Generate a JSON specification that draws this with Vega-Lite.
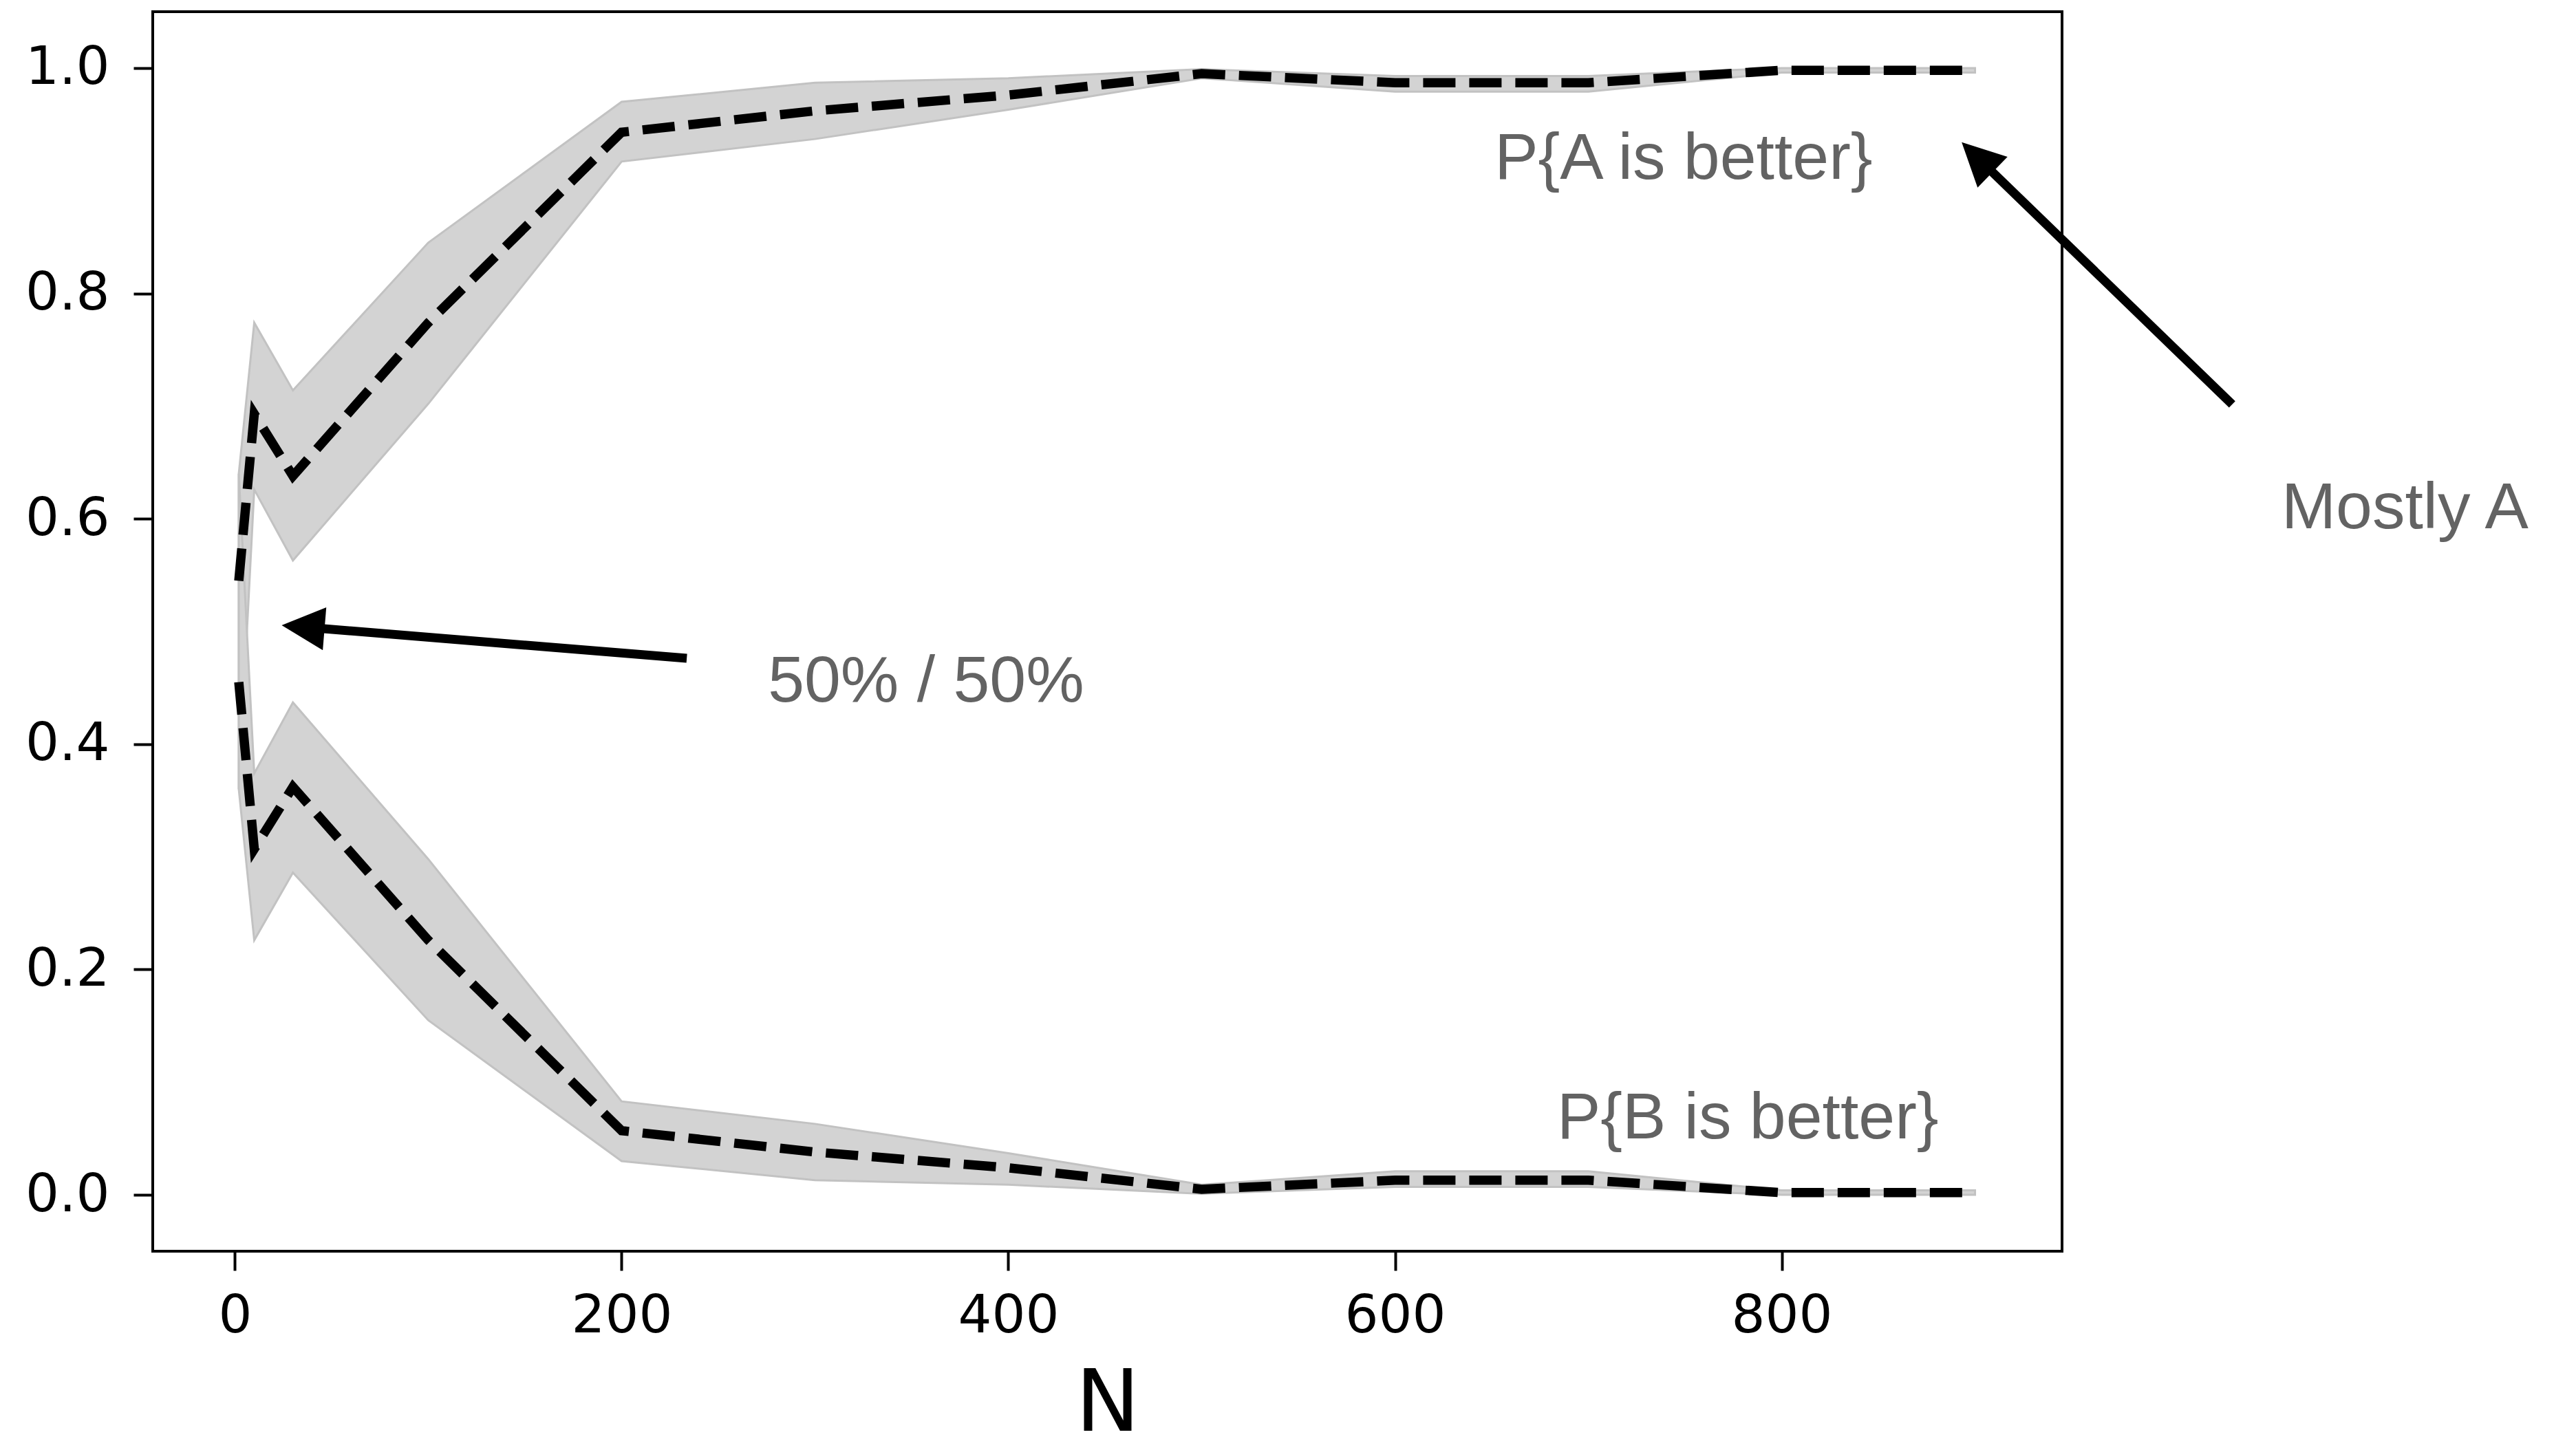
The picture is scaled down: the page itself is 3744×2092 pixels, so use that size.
{
  "$schema": "https://vega.github.io/schema/vega-lite/v6.json",
  "width": 2775,
  "height": 1802,
  "autosize": {"type": "none"},
  "padding": {"left": 222, "top": 17, "right": 747, "bottom": 273},
  "background": "white",
  "datasets": {
    "curves": [
      {"series": "A", "N": 2, "mean": 0.545, "lo": 0.36, "hi": 0.64},
      {"series": "A", "N": 10, "mean": 0.693, "lo": 0.626, "hi": 0.774},
      {"series": "A", "N": 30, "mean": 0.638, "lo": 0.563, "hi": 0.714},
      {"series": "A", "N": 100, "mean": 0.774, "lo": 0.702, "hi": 0.845},
      {"series": "A", "N": 200, "mean": 0.943, "lo": 0.917, "hi": 0.970},
      {"series": "A", "N": 300, "mean": 0.962, "lo": 0.937, "hi": 0.987},
      {"series": "A", "N": 400, "mean": 0.976, "lo": 0.963, "hi": 0.991},
      {"series": "A", "N": 500, "mean": 0.995, "lo": 0.991, "hi": 0.999},
      {"series": "A", "N": 600, "mean": 0.987, "lo": 0.979, "hi": 0.993},
      {"series": "A", "N": 700, "mean": 0.987, "lo": 0.979, "hi": 0.993},
      {"series": "A", "N": 800, "mean": 0.998, "lo": 0.996, "hi": 1.0},
      {"series": "A", "N": 900, "mean": 0.998, "lo": 0.996, "hi": 1.0},
      {"series": "B", "N": 2, "mean": 0.455, "lo": 0.36, "hi": 0.64},
      {"series": "B", "N": 10, "mean": 0.307, "lo": 0.226, "hi": 0.374},
      {"series": "B", "N": 30, "mean": 0.362, "lo": 0.286, "hi": 0.437},
      {"series": "B", "N": 100, "mean": 0.226, "lo": 0.155, "hi": 0.298},
      {"series": "B", "N": 200, "mean": 0.057, "lo": 0.030, "hi": 0.083},
      {"series": "B", "N": 300, "mean": 0.038, "lo": 0.013, "hi": 0.063},
      {"series": "B", "N": 400, "mean": 0.024, "lo": 0.009, "hi": 0.037},
      {"series": "B", "N": 500, "mean": 0.005, "lo": 0.001, "hi": 0.009},
      {"series": "B", "N": 600, "mean": 0.013, "lo": 0.007, "hi": 0.021},
      {"series": "B", "N": 700, "mean": 0.013, "lo": 0.007, "hi": 0.021},
      {"series": "B", "N": 800, "mean": 0.002, "lo": 0.0, "hi": 0.004},
      {"series": "B", "N": 900, "mean": 0.002, "lo": 0.0, "hi": 0.004}
    ],
    "labels": [
      {"label": "P{A is better}", "N": 651.5, "P": 0.9017},
      {"label": "P{B is better}", "N": 683.8, "P": 0.050},
      {"label": "50% / 50%", "N": 275.7, "P": 0.4377},
      {"label": "Mostly A", "N": 1058.5, "P": 0.5916}
    ],
    "shafts": [
      {"arrow": "1", "N": 233.7, "P": 0.4762, "N2": 38.4, "P2": 0.5035},
      {"arrow": "2", "N": 1033.0, "P": 0.7015, "N2": 903.3, "P2": 0.9171}
    ],
    "head1": [{"arrow": "1", "N": 24.2, "P": 0.5055}],
    "head2": [{"arrow": "2", "N": 893.1, "P": 0.9341}]
  },
  "layer": [
    {
      "data": {"name": "curves"},
      "mark": {"type": "area", "fill": "#d3d3d3", "stroke": "#c2c2c2", "strokeWidth": 3, "opacity": 1},
      "encoding": {
        "x": {"field": "N", "type": "quantitative", "scale": {"domain": [-42.5, 945], "nice": false, "zero": false},
              "axis": {"title": "N", "values": [0, 200, 400, 600, 800], "format": "d", "labelPadding": 28, "titlePadding": 29}},
        "y": {"field": "lo", "type": "quantitative", "scale": {"domain": [-0.05, 1.05], "nice": false, "zero": false},
              "axis": {"title": null, "values": [0, 0.2, 0.4, 0.6, 0.8, 1.0], "format": ".1f", "labelPadding": 35}},
        "y2": {"field": "hi"},
        "detail": {"field": "series"}
      }
    },
    {
      "data": {"name": "curves"},
      "mark": {"type": "line", "color": "black", "strokeWidth": 13.5, "strokeDash": [47, 20], "strokeCap": "butt"},
      "encoding": {
        "x": {"field": "N", "type": "quantitative", "scale": {"domain": [-42.5, 945], "nice": false, "zero": false},
              "axis": {"title": "N", "values": [0, 200, 400, 600, 800], "format": "d", "labelPadding": 28, "titlePadding": 29}},
        "y": {"field": "mean", "type": "quantitative", "scale": {"domain": [-0.05, 1.05], "nice": false, "zero": false},
              "axis": {"title": null, "values": [0, 0.2, 0.4, 0.6, 0.8, 1.0], "format": ".1f", "labelPadding": 35}},
        "detail": {"field": "series"}
      }
    },
    {
      "data": {"name": "labels"},
      "mark": {"type": "text", "align": "left", "baseline": "alphabetic", "font": "Liberation Sans", "fontSize": 95, "color": "#636363"},
      "encoding": {
        "x": {"field": "N", "type": "quantitative", "scale": {"domain": [-42.5, 945], "nice": false, "zero": false},
              "axis": {"title": "N", "values": [0, 200, 400, 600, 800], "format": "d", "labelPadding": 28, "titlePadding": 29}},
        "y": {"field": "P", "type": "quantitative", "scale": {"domain": [-0.05, 1.05], "nice": false, "zero": false},
              "axis": {"title": null, "values": [0, 0.2, 0.4, 0.6, 0.8, 1.0], "format": ".1f", "labelPadding": 35}},
        "text": {"field": "label"}
      }
    },
    {
      "data": {"name": "shafts"},
      "mark": {"type": "rule", "color": "black", "strokeWidth": 13, "strokeCap": "butt"},
      "encoding": {
        "x": {"field": "N", "type": "quantitative", "scale": {"domain": [-42.5, 945], "nice": false, "zero": false},
              "axis": {"title": "N", "values": [0, 200, 400, 600, 800], "format": "d", "labelPadding": 28, "titlePadding": 29}},
        "y": {"field": "P", "type": "quantitative", "scale": {"domain": [-0.05, 1.05], "nice": false, "zero": false},
              "axis": {"title": null, "values": [0, 0.2, 0.4, 0.6, 0.8, 1.0], "format": ".1f", "labelPadding": 35}},
        "x2": {"field": "N2"},
        "y2": {"field": "P2"}
      }
    },
    {
      "data": {"name": "head1"},
      "mark": {"type": "point", "shape": "M0,0L1,2L-1,2Z", "size": 3900, "filled": true, "color": "black", "opacity": 1, "strokeWidth": 0, "angle": 274.7},
      "encoding": {
        "x": {"field": "N", "type": "quantitative", "scale": {"domain": [-42.5, 945], "nice": false, "zero": false},
              "axis": {"title": "N", "values": [0, 200, 400, 600, 800], "format": "d", "labelPadding": 28, "titlePadding": 29}},
        "y": {"field": "P", "type": "quantitative", "scale": {"domain": [-0.05, 1.05], "nice": false, "zero": false},
              "axis": {"title": null, "values": [0, 0.2, 0.4, 0.6, 0.8, 1.0], "format": ".1f", "labelPadding": 35}}
      }
    },
    {
      "data": {"name": "head2"},
      "mark": {"type": "point", "shape": "M0,0L1,2L-1,2Z", "size": 3900, "filled": true, "color": "black", "opacity": 1, "strokeWidth": 0, "angle": 314.1},
      "encoding": {
        "x": {"field": "N", "type": "quantitative", "scale": {"domain": [-42.5, 945], "nice": false, "zero": false},
              "axis": {"title": "N", "values": [0, 200, 400, 600, 800], "format": "d", "labelPadding": 28, "titlePadding": 29}},
        "y": {"field": "P", "type": "quantitative", "scale": {"domain": [-0.05, 1.05], "nice": false, "zero": false},
              "axis": {"title": null, "values": [0, 0.2, 0.4, 0.6, 0.8, 1.0], "format": ".1f", "labelPadding": 35}}
      }
    }
  ],
  "config": {
    "view": {"stroke": "black", "strokeWidth": 4},
    "axis": {
      "domain": false,
      "grid": false,
      "ticks": true,
      "tickColor": "black",
      "tickWidth": 4,
      "tickSize": 28,
      "labelFont": "DejaVu Sans",
      "labelFontSize": 77,
      "labelColor": "black",
      "titleFont": "DejaVu Sans",
      "titleFontSize": 125,
      "titleFontWeight": "normal",
      "titleColor": "black"
    }
  }
}
